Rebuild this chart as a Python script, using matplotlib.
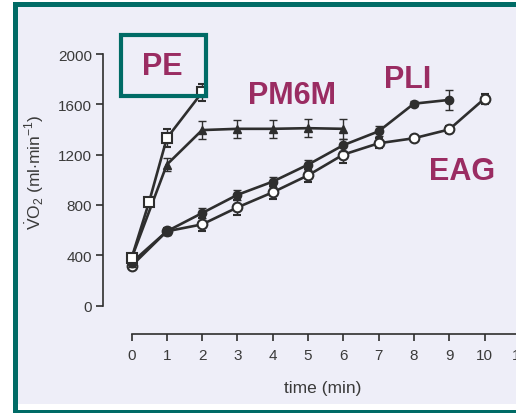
import matplotlib
matplotlib.use("Agg")
import matplotlib.pyplot as plt
from matplotlib.patches import Rectangle

# Oxygen uptake (ml/min) over time (min) for four exercise protocols
pe_t = [0, 0.5, 1, 2]
pe_v = [375, 825, 1330, 1695]
pe_e = [30, 30, 70, 70]

pm6m_t = [0, 1, 2, 3, 4, 5, 6]
pm6m_v = [375, 1120, 1395, 1405, 1405, 1410, 1405]
pm6m_e = [30, 50, 70, 70, 70, 72, 80]

pli_t = [0, 1, 2, 3, 4, 5, 6, 7, 8, 9]
pli_v = [340, 590, 735, 880, 985, 1120, 1275, 1385, 1605, 1635]
pli_e = [30, 30, 40, 40, 40, 40, 50, 40, 20, 80]

eag_t = [0, 1, 2, 3, 4, 5, 6, 7, 8, 9, 10]
eag_v = [315, 590, 645, 780, 900, 1035, 1200, 1290, 1330, 1400, 1645]
eag_e = [25, 30, 50, 60, 50, 50, 70, 40, 20, 30, 40]

y_ticks = [0, 400, 800, 1200, 1600, 2000]
x_ticks = list(range(0, 12))

plt.rcParams["font.family"] = ["Liberation Sans", "DejaVu Sans"]
plt.rcParams["mathtext.fontset"] = "custom"
plt.rcParams["mathtext.rm"] = "Liberation Sans"

W, H = 516, 414
TEAL = "#006b66"
MAROON = "#9a2c62"
INK = "#2e2e2e"
TXT = "#3a3a3a"
PANEL = "#eeeef8"

fig = plt.figure(figsize=(W / 100, H / 100), dpi=100)
fig.patch.set_facecolor("white")


def px_rect(x0, y0, x1, y1, color, z):
    fig.add_artist(Rectangle((x0 / W, 1 - y1 / H), (x1 - x0) / W, (y1 - y0) / H,
                             transform=fig.transFigure, facecolor=color,
                             edgecolor="none", zorder=z))


# slide frame: teal border, light panel, thin white strip at the bottom
px_rect(12.7, 3, 540, 414, TEAL, -10)
px_rect(18, 8, 540, 411, "white", -9)
px_rect(18, 8, 540, 405, PANEL, -8)

# axes placed so that the time scale runs past the right edge of the frame
left_px, right_px, bottom_px, top_px = 103, 530, 335, 40
ax = fig.add_axes([left_px / W, 1 - bottom_px / H,
                   (right_px - left_px) / W, (bottom_px - top_px) / H])
ax.set_facecolor("none")

px_per_min = 35.3
x0_px = 131.5
ax.set_xlim((left_px - x0_px) / px_per_min, (right_px - x0_px) / px_per_min)
v_per_px = 2000 / (306.5 - 55)
ax.set_ylim((306.5 - bottom_px) * v_per_px, (306.5 - top_px) * v_per_px)

for s in ("top", "right"):
    ax.spines[s].set_visible(False)
for s in ("left", "bottom"):
    ax.spines[s].set_color(INK)
    ax.spines[s].set_linewidth(1.2)
ax.spines["left"].set_bounds(0, 2000)
ax.spines["bottom"].set_bounds(0, ax.get_xlim()[1])

ax.set_yticks(y_ticks)
ax.set_xticks(x_ticks)
ax.tick_params(axis="both", colors=INK, labelcolor=TXT, width=1.2,
               length=5, labelsize=11, direction="out")
ax.tick_params(axis="y", pad=3)
ax.tick_params(axis="x", pad=5)

ax.set_xlabel("time (min)", fontsize=12.5, color=TXT)
ax.xaxis.set_label_coords((323 - left_px) / (right_px - left_px),
                          -(381 - bottom_px) / (bottom_px - top_px))
ax.set_ylabel(r"$\dot{\mathrm{V}}$O$_2$ (ml$\cdot$min$^{-1}$)", fontsize=12.5,
              color=TXT)
ax.yaxis.set_label_coords(-(103 - 46) / (right_px - left_px),
                          (bottom_px - 172) / (bottom_px - top_px))

common = dict(color=INK, lw=1.9, elinewidth=1.0, capsize=3, capthick=1.0,
              clip_on=False)
ax.errorbar(eag_t, eag_v, yerr=eag_e, marker="o", ms=7, mfc="white",
            mec=INK, mew=1.5, zorder=3, **common)
ax.errorbar(pli_t, pli_v, yerr=pli_e, marker="o", ms=6, mfc=INK,
            mec=INK, zorder=4, **common)
ax.errorbar(pm6m_t, pm6m_v, yerr=pm6m_e, marker="^", ms=6, mfc=INK,
            mec=INK, zorder=5, **common)
ax.errorbar(pe_t, pe_v, yerr=pe_e, marker="s", ms=7, mfc="white",
            mec=INK, mew=1.5, zorder=6, **common)

# series names
lab = dict(color=MAROON, fontsize=22, fontweight="bold",
           ha="center", va="center", clip_on=False)


def data_xy(px, py):
    return (px - x0_px) / px_per_min, (306.5 - py) * v_per_px


ax.text(*data_xy(162, 67), "PE", **lab)
ax.text(*data_xy(292, 96), "PM6M", **lab)
ax.text(*data_xy(408, 80), "PLI", **lab)
ax.text(*data_xy(462, 172), "EAG", **lab)

# box around the PE label
fig.add_artist(Rectangle((121 / W, 1 - 97 / H), 85 / W, 61 / H,
                         transform=fig.transFigure, facecolor="none",
                         edgecolor=TEAL, lw=3, zorder=10))

fig.savefig("out.png", dpi=100)
